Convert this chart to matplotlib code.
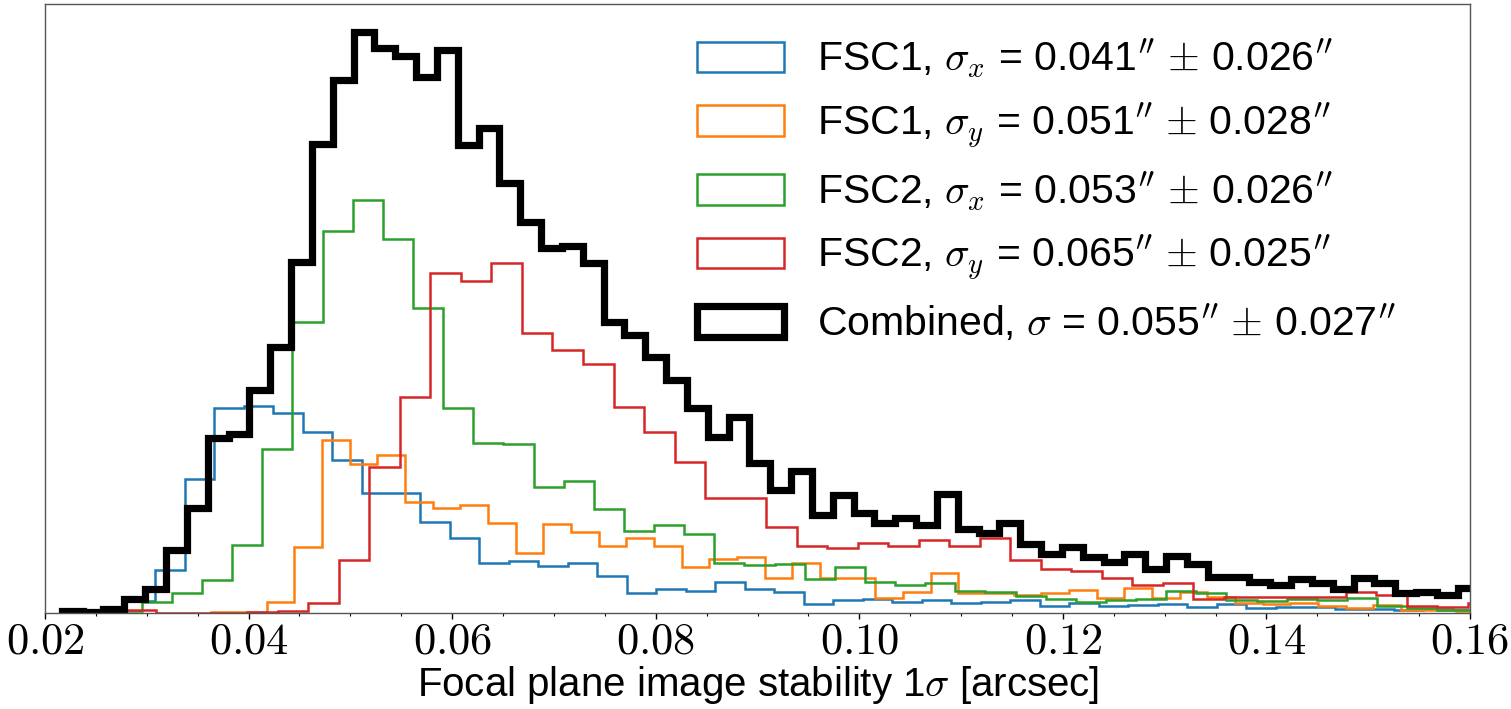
import numpy as np
import matplotlib
matplotlib.use("Agg")
import matplotlib.pyplot as plt
from matplotlib.ticker import MultipleLocator

plt.rcParams['font.family'] = ['Liberation Sans', 'DejaVu Sans']
plt.rcParams['mathtext.fontset'] = 'cm'

# Histogram heights (arbitrary units), one list per series,
# each with its own binning: first bin edge [arcsec] and bin width [arcsec]
fsc1_x_start, fsc1_x_width = 0.02502, 0.002897
fsc1_x = [2, 12, 43, 134, 205, 207, 200, 181, 153, 120, 120, 91, 75, 50, 52,
          47, 50, 37, 20, 24, 22, 31, 24, 21, 9, 13, 14, 11, 13, 10, 11, 13,
          7, 10, 7, 8, 9, 6, 9, 5, 6, 6, 4, 4, 3, 4, 3]

fsc1_y_start, fsc1_y_width = 0.03635, 0.002718
fsc1_y = [1, 1, 11, 66, 173, 149, 158, 111, 105, 108, 90, 60, 89, 81, 67,
          75, 67, 46, 54, 56, 35, 50, 35, 35, 15, 21, 40, 20, 20, 18, 20, 23,
          15, 25, 15, 21, 16, 10, 9, 10, 7, 5, 8, 3, 3, 2]

fsc2_x_start, fsc2_x_width = 0.02655, 0.00296
fsc2_x = [2, 11, 20, 33, 68, 164, 291, 382, 413, 374, 305, 205, 170, 169,
          126, 132, 104, 82, 88, 79, 50, 48, 49, 34, 46, 31, 28, 30, 22, 21,
          17, 14, 11, 13, 14, 22, 20, 13, 12, 14, 13, 15, 7, 5, 3, 3]

fsc2_y_start, fsc2_y_width = 0.02490, 0.002997
fsc2_y = [1, 3, 0.5, 0.5, 0.5, 1, 2, 10, 53, 146, 216, 340, 332, 350, 280,
          263, 249, 206, 181, 151, 115, 115, 86, 67, 65, 70, 67, 73, 67, 75,
          53, 44, 42, 35, 28, 30, 14, 16, 16, 16, 16, 21, 18, 7, 6, 10]

comb_start, comb_width = 0.02165, 0.002047
combined = [2, 1, 4, 14, 24, 63, 105, 175, 179, 223, 266, 351, 469, 533, 581,
            565, 557, 536, 563, 468, 485, 430, 391, 365, 367, 350, 291, 278,
            256, 233, 205, 176, 196, 150, 123, 142, 98, 118, 100, 90, 95, 88,
            119, 84, 80, 90, 69, 59, 66, 56, 51, 59, 44, 57, 49, 36, 36, 31,
            28, 34, 30, 24, 35, 30, 20, 21, 18, 25]

labels = [r"FSC1, $\sigma_x$ = 0.041$^{\prime\prime}$ $\pm$ 0.026$^{\prime\prime}$",
          r"FSC1, $\sigma_y$ = 0.051$^{\prime\prime}$ $\pm$ 0.028$^{\prime\prime}$",
          r"FSC2, $\sigma_x$ = 0.053$^{\prime\prime}$ $\pm$ 0.026$^{\prime\prime}$",
          r"FSC2, $\sigma_y$ = 0.065$^{\prime\prime}$ $\pm$ 0.025$^{\prime\prime}$",
          r"Combined, $\sigma$ = 0.055$^{\prime\prime}$ $\pm$ 0.027$^{\prime\prime}$"]

xticks = [0.02, 0.04, 0.06, 0.08, 0.10, 0.12, 0.14, 0.16]
xtick_labels = ["$0.02$", "$0.04$", "$0.06$", "$0.08$", "$0.10$", "$0.12$", "$0.14$", "$0.16$"]

series = [(fsc1_x_start, fsc1_x_width, fsc1_x, 'tab:blue', 1.8),
          (fsc1_y_start, fsc1_y_width, fsc1_y, 'tab:orange', 1.8),
          (fsc2_x_start, fsc2_x_width, fsc2_x, 'tab:green', 1.8),
          (fsc2_y_start, fsc2_y_width, fsc2_y, 'tab:red', 1.8),
          (comb_start, comb_width, combined, 'black', 5.2)]

fig = plt.figure(figsize=(15.11, 7.09), dpi=100)
ax = fig.add_axes([0.0298, 0.1354, 0.9431, 0.859])

for (start, width, vals, col, lw), lab in zip(series, labels):
    edges = start + width * np.arange(len(vals) + 1)
    ax.hist(edges[:-1], bins=edges, weights=vals, histtype='step',
            color=col, lw=lw, label=lab)

ax.set_xlim(0.02, 0.16)
ax.set_ylim(0, 609)
ax.set_yticks([])
ax.set_xticks(xticks)
ax.set_xticklabels(xtick_labels)
ax.xaxis.set_minor_locator(MultipleLocator(0.005))
ax.tick_params(axis='x', which='major', length=4, width=1, labelsize=32, pad=2)
ax.tick_params(axis='x', which='minor', length=2.2, width=0.8)
for sp in ax.spines.values():
    sp.set_color('#555555')
    sp.set_linewidth(1.0)

ax.set_xlabel(r"Focal plane image stability 1$\sigma$ [arcsec]", fontsize=29, labelpad=1)

ax.legend(loc='upper left', bbox_to_anchor=(0.4575, 0.946), frameon=False,
          fontsize=29.5, handlelength=2.12, handleheight=0.77, handletextpad=0.8,
          labelspacing=0.48, borderpad=0, borderaxespad=0)

fig.savefig("out.png", dpi=100)
